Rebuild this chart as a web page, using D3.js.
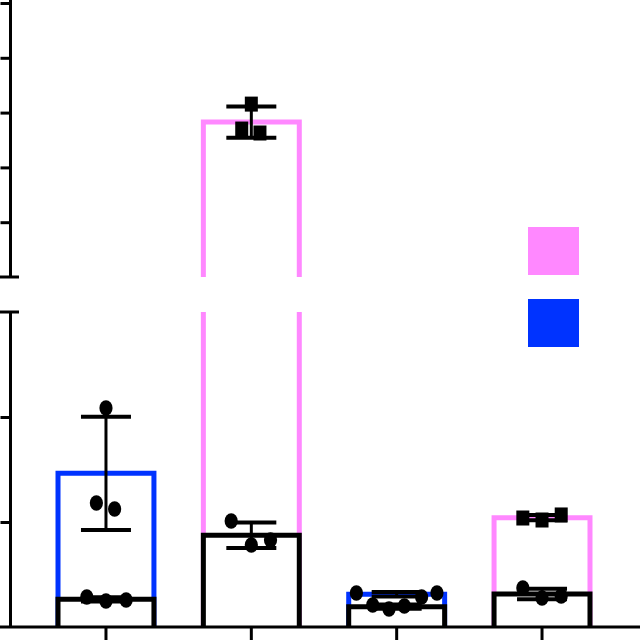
<!DOCTYPE html>
<html>
<head>
<meta charset="utf-8">
<script src="https://cdn.jsdelivr.net/npm/d3@7/dist/d3.min.js"></script>
<style>
  html, body { margin: 0; padding: 0; background: #fff; }
  svg { display: block; }
</style>
</head>
<body>
<svg id="chart" width="640" height="640"></svg>
<script>
// ---------------- data ----------------
const categories = ["G1", "G2", "G3", "G4"];
const seriesNames = ["pink", "blue"];
const seriesOfCategory = ["blue", "pink", "blue", "pink"];
// control (black) replicate values
const controlValues = [
  [2.86, 2.48, 2.57],
  [10.10, 7.81, 8.29],
  [2.10, 1.71, 2.00],
  [3.71, 2.76, 2.95]
];
// treated (coloured) replicate values
const treatedValues = [
  [20.86, 11.81, 11.24],
  [103.1, 94.0, 92.55],
  [3.24, 3.24, 2.86],
  [10.38, 10.19, 10.67]
];
// scatter spread of replicates (fraction of bar width)
const controlSpread = [
  [-0.2, 0, 0.21],
  [-0.21, 0, 0.2],
  [-0.25, -0.08, 0.08],
  [-0.2, 0, 0.2]
];
const treatedSpread = [
  [0, -0.1, 0.09],
  [0, -0.1, 0.09],
  [-0.42, 0.42, 0.26],
  [-0.2, 0, 0.2]
];
// broken y axis segments and ticks
const lowerDomain = [0, 30];
const lowerTicks = [0, 10, 20, 30];
const upperDomain = [40, 140];
const upperTicks = [40, 60, 80, 100, 120, 140];

// ---------------- styles ----------------
const colors = { pink: "#FF88FF", blue: "#0033FF", control: "#000000" };

const svg = d3.select("#chart");
svg.append("rect").attr("width", 640).attr("height", 640).attr("fill", "#fff");

const x = d3.scaleBand().domain(categories).range([33.3, 614.7])
  .paddingInner(0.34).paddingOuter(0.17);
const yLow = d3.scaleLinear().domain(lowerDomain).range([627, 312]);
const yUp = d3.scaleLinear().domain(upperDomain).range([277, 3]);
const y = v => (v <= lowerDomain[1] ? yLow(v) : yUp(v));

const bw = x.bandwidth();
const barStroke = 5;

function stats(vals) {
  return { mean: d3.mean(vals), sd: d3.deviation(vals) };
}

// bar outline drawing (handles axis break)
function drawBar(g, cat, value, color) {
  const x0 = x(cat), x1 = x(cat) + bw;
  if (value <= lowerDomain[1]) {
    g.append("path")
      .attr("d", `M${x0},${yLow(0)}V${yLow(value)}H${x1}V${yLow(0)}`)
      .attr("fill", "#fff").attr("stroke", color).attr("stroke-width", barStroke)
      .attr("stroke-linejoin", "miter");
  } else {
    g.append("rect").attr("x", x0).attr("y", yLow(lowerDomain[1]))
      .attr("width", bw).attr("height", yLow(0) - yLow(lowerDomain[1])).attr("fill", "#fff");
    g.append("path")
      .attr("d", `M${x0},${yLow(0)}V${yLow(lowerDomain[1])}M${x1},${yLow(0)}V${yLow(lowerDomain[1])}`)
      .attr("fill", "none").attr("stroke", color).attr("stroke-width", barStroke);
    g.append("path")
      .attr("d", `M${x0},${yUp(upperDomain[0])}V${yUp(value)}H${x1}V${yUp(upperDomain[0])}`)
      .attr("fill", "none").attr("stroke", color).attr("stroke-width", barStroke);
  }
}

function drawErr(g, cx, s) {
  const top = y(s.mean + s.sd), bot = y(s.mean - s.sd);
  g.append("line").attr("x1", cx).attr("x2", cx).attr("y1", top).attr("y2", bot)
    .attr("stroke", "#000").attr("stroke-width", 3);
  [top, bot].forEach(yy => {
    g.append("line").attr("x1", cx - 25).attr("x2", cx + 25).attr("y1", yy).attr("y2", yy)
      .attr("stroke", "#000").attr("stroke-width", 4);
  });
}

function drawPoints(g, cat, vals, spread, shape) {
  const cx = x(cat) + bw / 2;
  vals.forEach((v, i) => {
    const px = cx + spread[i] * bw, py = y(v);
    if (shape === "square") {
      g.append("rect").attr("x", px - 6.5).attr("y", py - 7.5).attr("width", 13).attr("height", 15)
        .attr("fill", "#000");
    } else {
      g.append("ellipse").attr("cx", px).attr("cy", py).attr("rx", 6.6).attr("ry", 7.8)
        .attr("fill", "#000");
    }
  });
}

const gBars = svg.append("g");
const gMarks = svg.append("g");

categories.forEach((cat, i) => {
  const ser = seriesOfCategory[i];
  const ts = stats(treatedValues[i]);
  const cs = stats(controlValues[i]);
  drawBar(gBars, cat, ts.mean, colors[ser]);
  drawBar(gBars, cat, cs.mean, colors.control);
  const cx = x(cat) + bw / 2;
  drawErr(gMarks, cx, ts);
  drawErr(gMarks, cx, cs);
  drawPoints(gMarks, cat, treatedValues[i], treatedSpread[i], ser === "pink" ? "square" : "circle");
  drawPoints(gMarks, cat, controlValues[i], controlSpread[i], "circle");
});

// ---------------- axes ----------------
const axisX = 10.5;
const gAxes = svg.append("g");
function styleAxis(sel) {
  sel.select(".domain").remove();
  sel.selectAll(".tick line").attr("stroke", "#000").attr("stroke-width", 3);
  sel.selectAll(".tick text").remove();
}
gAxes.append("g").attr("transform", `translate(${axisX},0)`)
  .call(d3.axisLeft(yLow).tickValues(lowerTicks.filter(t => t > 0 && t < lowerDomain[1]))
    .tickSize(10).tickFormat(""))
  .call(styleAxis);
gAxes.append("g").attr("transform", `translate(${axisX},0)`)
  .call(d3.axisLeft(yUp).tickValues(upperTicks.filter(t => t > upperDomain[0]))
    .tickSize(10).tickFormat(""))
  .call(styleAxis);
gAxes.append("line").attr("x1", axisX).attr("x2", axisX)
  .attr("y1", yLow(0)).attr("y2", yLow(lowerDomain[1]))
  .attr("stroke", "#000").attr("stroke-width", 3);
gAxes.append("line").attr("x1", axisX).attr("x2", axisX)
  .attr("y1", yUp(upperDomain[0])).attr("y2", 0)
  .attr("stroke", "#000").attr("stroke-width", 3);
[yLow(lowerDomain[1]), yUp(upperDomain[0])].forEach(yy => {
  gAxes.append("line").attr("x1", 0).attr("x2", 19).attr("y1", yy).attr("y2", yy)
    .attr("stroke", "#000").attr("stroke-width", 3);
});
const gx = gAxes.append("g").attr("transform", `translate(0,${yLow(0)})`);
gx.call(d3.axisBottom(x).tickSize(14).tickFormat(""));
gx.select(".domain").remove();
gx.selectAll(".tick line").attr("stroke", "#000").attr("stroke-width", 3);
gx.selectAll(".tick text").remove();
gAxes.append("line").attr("x1", 0).attr("x2", 640).attr("y1", yLow(0)).attr("y2", yLow(0))
  .attr("stroke", "#000").attr("stroke-width", 3);

// ---------------- legend ----------------
const legendY = d3.scalePoint().domain(seriesNames).range([251, 323]);
svg.append("g").selectAll("rect").data(seriesNames).join("rect")
  .attr("x", 528).attr("y", d => legendY(d) - 24)
  .attr("width", 51).attr("height", 48)
  .attr("fill", d => colors[d]);
</script>
</body>
</html>
